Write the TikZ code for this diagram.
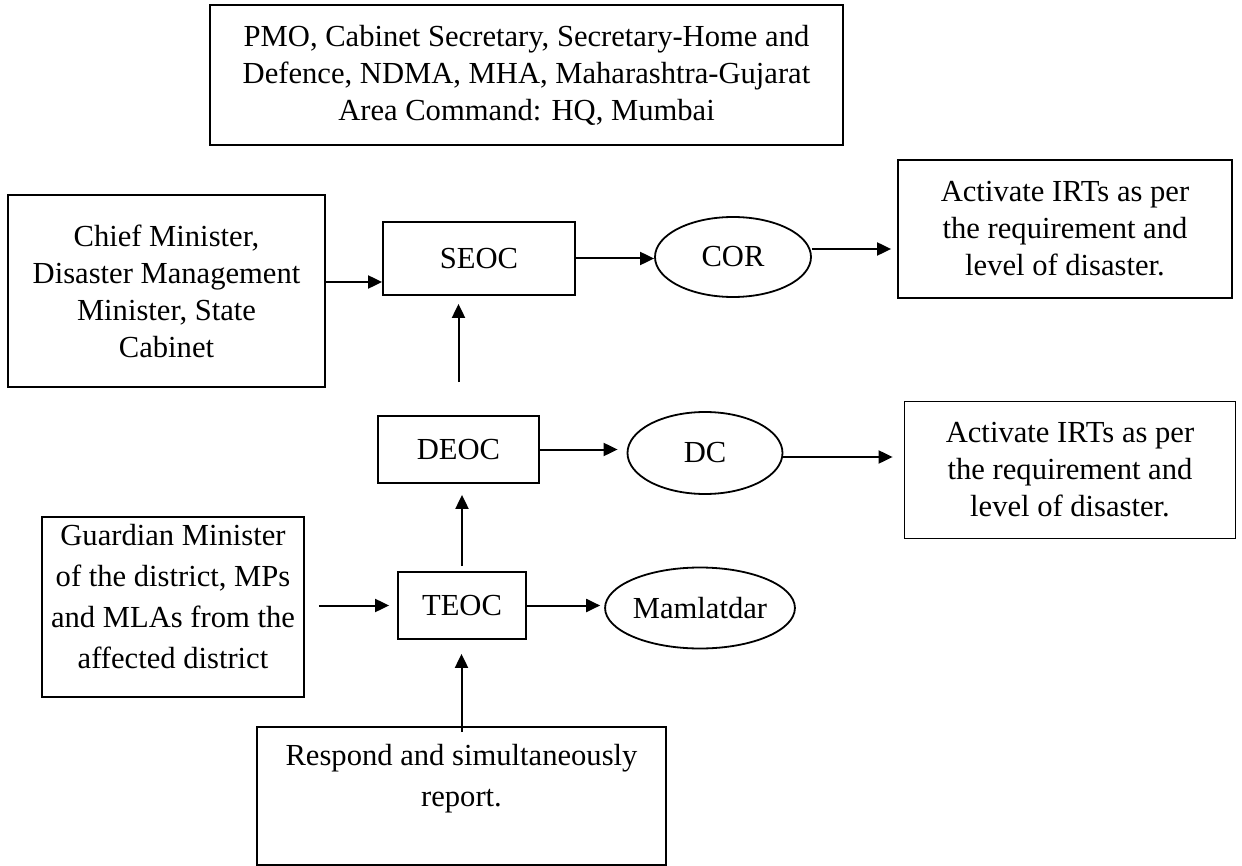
\documentclass[tikz,border=0pt]{standalone}
\usepackage{fontspec}
\setmainfont{Liberation Serif}
\usetikzlibrary{arrows.meta, shapes.geometric}

\begin{document}
\begin{tikzpicture}[x=0.5pt, y=-0.5pt,
box/.style={draw, line width=0.9pt, align=center, inner sep=0pt,
  font=\fontsize{15.3}{18.5}\selectfont},
oval/.style={draw, ellipse, line width=0.9pt, inner sep=0pt,
  font=\fontsize{15.3}{18.5}\selectfont},
arr/.style={-{Triangle[length=7pt,width=6.5pt]}, line width=1pt}]

\useasboundingbox (0,0) rectangle (1242,866);

\node[box, minimum width=316.5pt, minimum height=70pt] (pmo) at (526.5,75)
  {PMO, Cabinet Secretary, Secretary-Home and\\Defence, NDMA, MHA, Maharashtra-Gujarat\\Area Command: HQ, Mumbai};

\node[box, minimum width=158.5pt, minimum height=96pt] (cm) at (166.5,291)
  {Chief Minister,\\Disaster Management\\Minister, State\\Cabinet};
\node[box, minimum width=96pt, minimum height=36.5pt] (seoc) at (479,258.5) {SEOC};
\node[oval, minimum width=78pt, minimum height=40pt] (cor) at (733,257) {COR};
\node[box, minimum width=167pt, minimum height=69pt] (act1) at (1065,229)
  {Activate IRTs as per\\the requirement and\\level of disaster.};

\node[box, minimum width=80.5pt, minimum height=33.5pt] (deoc) at (458.5,449.5) {DEOC};
\node[oval, minimum width=77.5pt, minimum height=41pt] (dc) at (705,453) {DC};
\node[box, minimum width=165.5pt, minimum height=68.5pt] (act2) at (1070,470)
  {Activate IRTs as per\\the requirement and\\level of disaster.};

\node[box, minimum width=131pt, minimum height=90pt,
  font=\fontsize{15.3}{20.5}\selectfont] (guard) at (173,607)
  {Guardian Minister\\of the district, MPs\\and MLAs from the\\affected district\\[-9.5pt]\mbox{}};
\node[box, minimum width=64pt, minimum height=33.5pt] (teoc) at (462,605.5) {TEOC};
\node[oval, minimum width=90pt, minimum height=40.5pt] (mam) at (700,608) {Mamlatdar};

\node[box, minimum width=204.5pt, minimum height=69pt,
  font=\fontsize{15.3}{20.5}\selectfont] (resp) at (461.5,796)
  {Respond and simultaneously\\report.\\\mbox{}};

% state level
\draw[arr] ([yshift=-11.75pt]seoc.west -| cm.east) -- ([yshift=-11.75pt]seoc.west);
\draw[arr] (seoc.east) -- (seoc.east -| cor.west);
\draw[arr, shorten >=3pt] ([yshift=4pt]cor.east) -- ([yshift=4pt]cor.east -| act1.west);
\draw[arr] ([yshift=16.5pt]deoc.north) -- ([yshift=-4pt]seoc.south -| deoc.north);

% district level
\draw[arr, shorten >=4.5pt] (deoc.east) -- (deoc.east -| dc.west);
\draw[arr, shorten >=5.5pt] ([yshift=-2pt]dc.east) -- ([yshift=-2pt]dc.east -| act2.west);
\draw[arr] ([yshift=2.5pt]teoc.north) -- ([yshift=-5.5pt]deoc.south -| teoc.north);

% taluka level
\draw[arr, shorten >=4pt] ([xshift=7pt]guard.east |- teoc.west) -- (teoc.west);
\draw[arr, shorten >=2pt] (teoc.east) -- (teoc.east -| mam.west);
\draw[arr] ([yshift=-3pt]resp.north) -- ([yshift=-7pt]teoc.south -| resp.north);

\end{tikzpicture}
\end{document}
